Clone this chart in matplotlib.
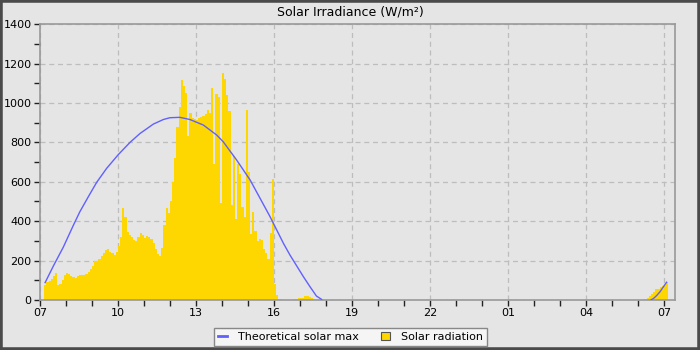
import matplotlib
matplotlib.use("Agg")
import matplotlib.pyplot as plt
import matplotlib.dates as mdates
from matplotlib.patches import Rectangle, Patch
from matplotlib.lines import Line2D
import pandas as pd
import numpy as np

# --- data -----------------------------------------------------------------
day = "2024-06-01"
next_day = "2024-06-02"

# Solar radiation (W/m2), 5-minute samples
rad_start_1 = day + " 07:10"
rad_values_1 = [
    76, 90, 95, 105, 120, 135, 75, 80, 100, 125,            # 07:10-07:55
    135, 130, 120, 115, 110, 120, 125, 128, 125, 130, 140, 155,  # 08:00-08:55
    170, 198, 198, 210, 225, 240, 255, 258, 245, 240, 230, 245,  # 09:00-09:55
    275, 320, 465, 420, 345, 330, 320, 305, 300, 320, 338, 330,  # 10:00-10:55
    315, 325, 322, 310, 290, 260, 235, 225, 265, 380, 465, 440,  # 11:00-11:55
    500, 600, 720, 880, 980, 1115, 1085, 1050, 830, 950, 925, 920,  # 12:00-12:55
    915, 925, 930, 935, 945, 963, 950, 1075, 690, 1045, 1030, 490,  # 13:00-13:55
    1150, 1120, 1040, 960, 480, 730, 410, 690, 640, 470, 420, 963,  # 14:00-14:55
    650, 335, 448, 350, 300, 310, 305, 260, 240, 210, 340, 615,   # 15:00-15:55
    80, 25, 5, 4, 0,                                              # 16:00-16:20
]
rad_start_2 = day + " 16:45"
rad_values_2 = [4, 5, 8, 9, 12, 18, 20, 14, 8, 6, 4, 4, 3, 3, 2]
rad_start_3 = next_day + " 06:15"
rad_values_3 = [3, 10, 22, 32, 42, 55, 58, 65, 72, 78, 92]

# Theoretical solar max
theo_times_1 = [
    "07:12", "07:31", "07:54", "08:17", "08:32", "08:52", "09:11", "09:34",
    "10:01", "10:28", "10:51", "11:22", "11:45", "12:00", "12:23", "12:46",
    "13:17", "13:48", "14:03", "14:34", "15:05", "15:28", "15:51", "16:22",
    "16:37", "17:08", "17:23", "17:38", "17:50",
]
theo_values_1 = [
    88, 172, 268, 378, 447, 525, 597, 668,
    738, 800, 845, 893, 916, 925, 927, 916,
    888, 837, 803, 710, 609, 516, 423, 287,
    228, 118, 68, 20, 3,
]
theo_times_2 = ["06:30", "06:36", "06:43", "06:51", "07:06"]
theo_values_2 = [0, 8, 22, 42, 90]

# --- figure ---------------------------------------------------------------
bg = "#e5e5e5"
fig = plt.figure(figsize=(7, 3.5), dpi=100, facecolor=bg)
ax = fig.add_axes([0.057, 0.143, 0.907, 0.788], facecolor=bg)

bar_w = pd.Timedelta(minutes=5) / pd.Timedelta(days=1)
for start, vals in [(rad_start_1, rad_values_1), (rad_start_2, rad_values_2),
                    (rad_start_3, rad_values_3)]:
    t = pd.date_range(start, periods=len(vals), freq="5min")
    ax.bar(mdates.date2num(t.to_pydatetime()), vals, width=bar_w, align="edge",
           color="#ffd700", linewidth=0, zorder=2)

for d, times, vals in [(day, theo_times_1, theo_values_1),
                       (next_day, theo_times_2, theo_values_2)]:
    tt = mdates.date2num(pd.to_datetime([d + " " + s for s in times]).to_pydatetime())
    ax.plot(tt, vals, color="#6060ff", lw=1.0, zorder=3)

ax.set_xlim(mdates.date2num(pd.Timestamp(day + " 07:00")),
            mdates.date2num(pd.Timestamp(next_day + " 07:25")))
ax.set_ylim(0, 1400)
ax.set_yticks(range(0, 1401, 200))
ax.set_yticks(range(100, 1400, 200), minor=True)
ax.xaxis.set_major_locator(mdates.HourLocator(byhour=[1, 4, 7, 10, 13, 16, 19, 22]))
ax.xaxis.set_minor_locator(mdates.HourLocator())
ax.xaxis.set_major_formatter(mdates.DateFormatter("%H"))

ax.tick_params(axis="both", which="both", labelsize=8, length=4, width=1,
               color="#222222", direction="out", pad=2)
ax.set_axisbelow(True)
ax.grid(True, which="major", color="#bdbdbd", linestyle=(0, (4, 3)), lw=0.9)
for s in ax.spines.values():
    s.set_color("#999999")
    s.set_linewidth(1.2)

fig.text(0.5, 0.966, "Solar Irradiance (W/m\u00b2)", ha="center", va="center",
         fontsize=9)

handles = [Line2D([0], [0], color="#6060ff", lw=2),
           Patch(facecolor="#ffd700", edgecolor="#555555", lw=0.8)]
leg = fig.legend(handles, ["Theoretical solar max", "Solar radiation"],
                 loc="center", bbox_to_anchor=(0.501, 0.037), ncol=2,
                 fontsize=8, frameon=True, fancybox=False, framealpha=1,
                 handlelength=0.8, handleheight=0.8, columnspacing=2.0,
                 borderpad=0.35, handletextpad=1.0)
leg.get_frame().set_facecolor("#f5f5f5")
leg.get_frame().set_edgecolor("#888888")

fig.patches.append(Rectangle((0, 0), 1, 1, transform=fig.transFigure,
                             fill=False, edgecolor="#4a4a4a", lw=4))

fig.savefig("out.png", dpi=100, facecolor=bg)
